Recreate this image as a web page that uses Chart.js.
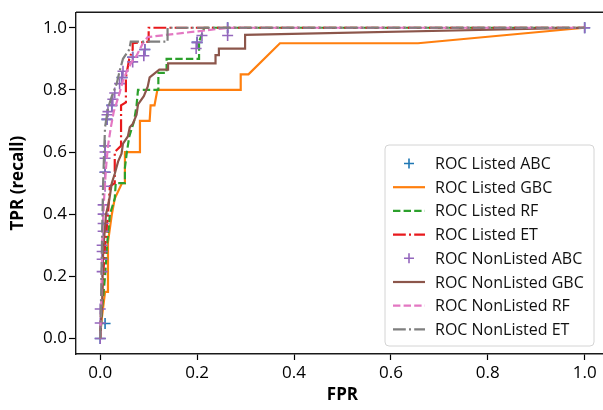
<!DOCTYPE html>
<html><head><meta charset="utf-8">
<script src="https://cdn.jsdelivr.net/npm/chart.js@4"></script>
<style>html,body{margin:0;padding:0;overflow:hidden;background:#fff;width:603px;height:410px}canvas{display:block}</style>
</head><body>
<canvas id="c" width="616" height="410" style="width:616px;height:410px"></canvas>
<script>
// ---- tick labels ----
const xTickValues = [0, 0.2, 0.4, 0.6, 0.8, 1.0];
const yTickValues = [0, 0.2, 0.4, 0.6, 0.8, 1.0];

// ---- series ----
const listedAbcFpr = [0, 0.01, 0.01, 0.01, 0.014, 0.024, 0.045, 0.067, 0.092, 0.2, 0.263, 1];
const listedAbcTpr = [0, 0.048, 0.535, 0.62, 0.705, 0.75, 0.84, 0.905, 0.93, 0.953, 1.0, 1.0];

const listedGbcFpr = [0, 0.002, 0.01, 0.016, 0.016, 0.024, 0.03, 0.045, 0.051, 0.051, 0.082, 0.082, 0.102, 0.104, 0.112, 0.118, 0.29, 0.29, 0.306, 0.371, 0.656, 1];
const listedGbcTpr = [0, 0.05, 0.15, 0.15, 0.31, 0.40, 0.45, 0.50, 0.50, 0.60, 0.60, 0.70, 0.70, 0.75, 0.75, 0.80, 0.80, 0.85, 0.85, 0.95, 0.95, 1.0];

const listedRfFpr = [0, 0.004, 0.01, 0.014, 0.02, 0.03, 0.032, 0.051, 0.051, 0.055, 0.06, 0.07, 0.075, 0.078, 0.12, 0.12, 0.137, 0.137, 0.204, 0.204, 0.215, 1];
const listedRfTpr = [0, 0.10, 0.20, 0.30, 0.40, 0.45, 0.50, 0.50, 0.55, 0.60, 0.65, 0.70, 0.75, 0.80, 0.80, 0.855, 0.855, 0.90, 0.90, 0.955, 1.0, 1.0];

const listedEtFpr = [0, 0.002, 0.006, 0.01, 0.016, 0.02, 0.03, 0.03, 0.043, 0.043, 0.053, 0.053, 0.06, 0.067, 0.067, 0.1, 0.1, 1];
const listedEtTpr = [0, 0.10, 0.20, 0.30, 0.40, 0.49, 0.50, 0.60, 0.62, 0.75, 0.76, 0.84, 0.90, 0.93, 0.95, 0.955, 1.0, 1.0];

const nonListedAbcFpr = [0, 0, 0, 0.004, 0.004, 0.004, 0.004, 0.006, 0.006, 0.006, 0.006, 0.01, 0.01, 0.01, 0.01, 0.01, 0.014, 0.014, 0.016, 0.024, 0.026, 0.03, 0.04, 0.045, 0.047, 0.067, 0.067, 0.09, 0.092, 0.198, 0.2, 0.21, 0.263, 0.263, 1];
const nonListedAbcTpr = [0, 0.05, 0.095, 0.215, 0.255, 0.28, 0.30, 0.345, 0.37, 0.40, 0.43, 0.49, 0.535, 0.58, 0.60, 0.62, 0.705, 0.72, 0.73, 0.75, 0.77, 0.79, 0.82, 0.84, 0.86, 0.89, 0.905, 0.91, 0.93, 0.933, 0.953, 0.975, 0.975, 1.0, 1.0];

const nonListedGbcFpr = [0, 0.002, 0.004, 0.006, 0.012, 0.018, 0.02, 0.024, 0.03, 0.037, 0.044, 0.047, 0.057, 0.061, 0.067, 0.075, 0.078, 0.09, 0.098, 0.102, 0.122, 0.14, 0.14, 0.238, 0.238, 0.245, 0.245, 0.299, 0.299, 1];
const nonListedGbcTpr = [0, 0.06, 0.12, 0.28, 0.40, 0.44, 0.46, 0.50, 0.53, 0.57, 0.595, 0.627, 0.65, 0.68, 0.69, 0.72, 0.753, 0.78, 0.81, 0.84, 0.865, 0.865, 0.885, 0.885, 0.912, 0.912, 0.9325, 0.9325, 0.977, 1.0];

const nonListedRfFpr = [0, 0.002, 0.004, 0.008, 0.012, 0.016, 0.022, 0.028, 0.034, 0.04, 0.047, 0.055, 0.065, 0.075, 0.088, 0.098, 0.265, 1];
const nonListedRfTpr = [0, 0.10, 0.30, 0.45, 0.55, 0.62, 0.68, 0.73, 0.76, 0.79, 0.83, 0.86, 0.89, 0.91, 0.95, 0.97, 1.0, 1.0];

const nonListedEtFpr = [0, 0.002, 0.004, 0.006, 0.008, 0.01, 0.016, 0.024, 0.034, 0.04, 0.047, 0.06, 0.063, 0.139, 0.139, 1];
const nonListedEtTpr = [0, 0.15, 0.35, 0.50, 0.60, 0.68, 0.74, 0.78, 0.82, 0.86, 0.90, 0.93, 0.955, 0.955, 1.0, 1.0];

const pts = (xs, ys) => xs.map((x, i) => ({x, y: ys[i]}));

const FONT = "'Open Sans', 'DejaVu Sans', sans-serif";

function lineDs(label, xs, ys, color, dash) {
  return {label, data: pts(xs, ys), showLine: true, borderColor: color, backgroundColor: color,
    borderWidth: 2.2, borderDash: dash, pointRadius: 0, pointHoverRadius: 0, tension: 0, fill: false};
}
function markDs(label, xs, ys, color) {
  return {label, data: pts(xs, ys), showLine: false, pointStyle: 'cross', pointRadius: 5.5,
    pointBorderWidth: 1.6, pointBorderColor: color, borderColor: color, backgroundColor: color};
}

const DASH = [7.4, 3.2];
const DASHDOT = [12.8, 3.2, 2, 3.2];

const datasets = [
  markDs('ROC Listed ABC', listedAbcFpr, listedAbcTpr, '#1f77b4'),
  lineDs('ROC Listed GBC', listedGbcFpr, listedGbcTpr, '#ff7f0e', []),
  lineDs('ROC Listed RF', listedRfFpr, listedRfTpr, '#2ca02c', DASH),
  lineDs('ROC Listed ET', listedEtFpr, listedEtTpr, '#e8191c', DASHDOT),
  markDs('ROC NonListed ABC', nonListedAbcFpr, nonListedAbcTpr, '#9467bd'),
  lineDs('ROC NonListed GBC', nonListedGbcFpr, nonListedGbcTpr, '#8c564b', []),
  lineDs('ROC NonListed RF', nonListedRfFpr, nonListedRfTpr, '#e377c2', DASH),
  lineDs('ROC NonListed ET', nonListedEtFpr, nonListedEtTpr, '#7f7f7f', DASHDOT)
];
datasets.forEach((d, i) => { d.order = 20 - i; });

const framePlugin = {
  id: 'frame',
  afterDraw(chart) {
    const {ctx, chartArea: a} = chart;
    ctx.save();
    ctx.strokeStyle = '#1a1a1a'; ctx.lineWidth = 1.4;
    ctx.beginPath();
    ctx.moveTo(a.left, a.top); ctx.lineTo(a.right, a.top); ctx.lineTo(a.right, a.bottom);
    ctx.stroke();
    ctx.restore();
  }
};

const boxLegend = {
  id: 'boxLegend',
  afterDatasetsDraw(chart) {
    const ctx = chart.ctx;
    const bx = 385, by = 145, bw = 209, bh = 201, r = 4;
    ctx.save();
    ctx.beginPath();
    ctx.moveTo(bx + r, by); ctx.lineTo(bx + bw - r, by); ctx.arcTo(bx + bw, by, bx + bw, by + r, r);
    ctx.lineTo(bx + bw, by + bh - r); ctx.arcTo(bx + bw, by + bh, bx + bw - r, by + bh, r);
    ctx.lineTo(bx + r, by + bh); ctx.arcTo(bx, by + bh, bx, by + bh - r, r);
    ctx.lineTo(bx, by + r); ctx.arcTo(bx, by, bx + r, by, r); ctx.closePath();
    ctx.fillStyle = 'rgba(255,255,255,0.9)'; ctx.fill();
    ctx.strokeStyle = '#d4d4d4'; ctx.lineWidth = 1; ctx.stroke();
    ctx.font = "16px " + FONT;
    ctx.textBaseline = 'middle'; ctx.textAlign = 'left';
    chart.data.datasets.forEach((ds, i) => {
      const cy = 163.5 + i * 23.7;
      ctx.setLineDash([]);
      if (ds.showLine === false) {
        ctx.strokeStyle = ds.pointBorderColor; ctx.lineWidth = 1.6;
        ctx.beginPath();
        ctx.moveTo(409 - 5, cy); ctx.lineTo(409 + 5, cy);
        ctx.moveTo(409, cy - 5); ctx.lineTo(409, cy + 5);
        ctx.stroke();
      } else {
        ctx.strokeStyle = ds.borderColor; ctx.lineWidth = 2.2;
        ctx.setLineDash(ds.borderDash || []);
        ctx.beginPath(); ctx.moveTo(393, cy); ctx.lineTo(425, cy); ctx.stroke();
        ctx.setLineDash([]);
      }
      ctx.fillStyle = '#111';
      ctx.fillText(ds.label, 435, cy + 1);
    });
    ctx.restore();
  }
};

const tickFont = {family: FONT, size: 17};
const titleFont = {family: FONT, size: 17, weight: 'bold'};

new Chart(document.getElementById('c'), {
  type: 'scatter',
  data: {datasets},
  options: {
    responsive: false, animation: false, devicePixelRatio: 1,
    layout: {padding: {top: 7, right: 2, left: 0, bottom: 0}},
    plugins: {legend: {display: false}, tooltip: {enabled: false}},
    scales: {
      x: {
        type: 'linear', min: -0.05, max: 1.05,
        afterBuildTicks: s => { s.ticks = xTickValues.map(v => ({value: v})); },
        afterFit: s => { s.height = 56; },
        ticks: {callback: v => Number(v).toFixed(1), font: tickFont, color: '#000', padding: 3, maxRotation: 0, autoSkip: false},
        grid: {drawOnChartArea: false, drawTicks: true, tickLength: 6, tickWidth: 1.2, tickColor: '#000'},
        border: {display: true, color: '#1a1a1a', width: 1.4},
        title: {display: true, text: 'FPR', font: titleFont, color: '#000', padding: {top: 0, bottom: 5}}
      },
      y: {
        type: 'linear', min: -0.05, max: 1.05,
        afterBuildTicks: s => { s.ticks = yTickValues.map(v => ({value: v})); },
        afterFit: s => { s.width = 76; },
        ticks: {callback: v => Number(v).toFixed(1), font: tickFont, color: '#000', padding: 2, autoSkip: false},
        grid: {drawOnChartArea: false, drawTicks: true, tickLength: 7, tickWidth: 1.2, tickColor: '#000'},
        border: {display: true, color: '#1a1a1a', width: 1.4},
        title: {display: true, text: 'TPR (recall)', font: titleFont, color: '#000', padding: {top: 8, bottom: 0}}
      }
    }
  },
  plugins: [framePlugin, boxLegend]
});
</script>
</body></html>
